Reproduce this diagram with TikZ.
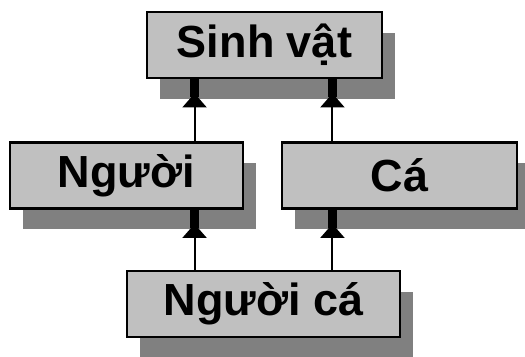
\documentclass[tikz,border=0pt]{standalone}
\usepackage{fontspec}
\setmainfont{Liberation Sans}
\usepackage{tikz}
\usetikzlibrary{
  arrows.meta,
  positioning,
  calc,
  shadows
}
\definecolor{boxgray}{RGB}{192,192,192}
\definecolor{shadowgray}{RGB}{128,128,128}

\begin{document}
\begin{tikzpicture}[
      x=0.5pt,y=-0.5pt,
      entity/.style={
         rectangle,
         draw=black,
         line width=1.4pt,
         fill=boxgray,
         minimum width=117.5pt,
         minimum height=33pt,
         inner sep=0pt,
         font=\fontsize{22.5}{26}\selectfont\bfseries,
         drop shadow={shadow xshift=6.5pt,shadow yshift=-10.5pt,
                      opacity=1,fill=shadowgray},
         %text height=1.5ex,
         %text depth=.25ex
      },
      tip/.style={-{Triangle[width=12pt,length=7pt,sep=-2pt]Rectangle[width=4.5pt,length=9pt]},
                  line width=1pt},
    ]
    \useasboundingbox (0,0) rectangle (525,357);
    \node (sinhvat) [entity] at (264.5,45) {Sinh vật};
    \node (nguoi) [entity, minimum width=116.5pt] at (126.5,175.5) {Người};
    \node (ca) [entity] at (399.5,175.5) {Cá};
    \node (nguoica) [entity, minimum width=136.5pt] at (263.5,304) {Người cá};
    \coordinate (p1) at ($(nguoica.north west)!.25!(nguoica.north east)$);
    \coordinate (p2) at ($(nguoica.north west)!.75!(nguoica.north east)$);
    \draw[tip] (p1) -- (p1 |- nguoi.south);
    \draw[tip] (p2) -- (p2 |- ca.south);
    \draw[tip] (nguoi.north -| p1) -- (p1 |- sinhvat.south);
    \draw[tip] (ca.north -| p2) -- (p2 |- sinhvat.south);
\end{tikzpicture}
\end{document}
